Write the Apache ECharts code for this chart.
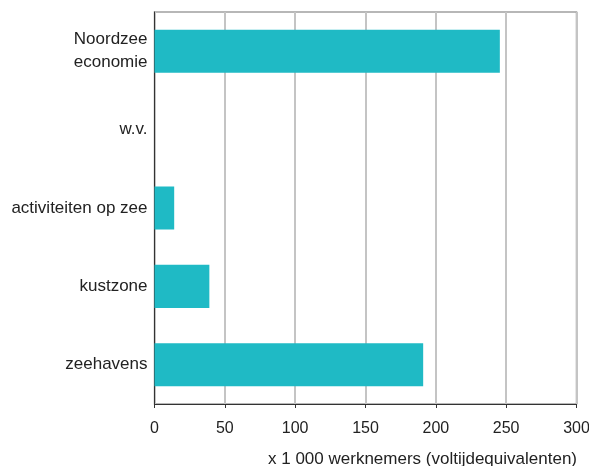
<!DOCTYPE html>
<html><head><meta charset="utf-8">
<script src="https://cdn.jsdelivr.net/npm/echarts@6/dist/echarts.min.js"></script>
<style>html,body{margin:0;padding:0;background:#fff}#c{width:589px;height:466px}</style>
</head><body><div id="c"></div>
<script>
const categories = ["Noordzee\neconomie", "w.v.", "activiteiten op zee", "kustzone", "zeehavens"];
const values = [245.5, null, 14, 39, 191];
const xTicks = [0, 50, 100, 150, 200, 250, 300];
const xName = "x 1 000 werknemers (voltijdequivalenten)";

const FF = 'Liberation Sans, Arial, sans-serif';
const chart = echarts.init(document.getElementById('c'), null, {renderer: 'canvas'});
chart.setOption({
  animation: false,
  backgroundColor: '#fff',
  textStyle: {fontFamily: FF},
  grid: {left: 154.5, right: 12.5, top: 12, bottom: 62, containLabel: false, outerBoundsMode: 'none',
         show: true, borderColor: '#a0a0a0', borderWidth: 1.5},
  xAxis: {
    type: 'value', min: xTicks[0], max: xTicks[xTicks.length-1], interval: 50,
    axisLine: {show: true, lineStyle: {color: '#333', width: 1}},
    axisTick: {show: true, length: 4, lineStyle: {color: '#333'}},
    axisLabel: {color: '#222', fontSize: 16, margin: 17, fontFamily: FF},
    splitLine: {show: true, lineStyle: {color: '#c4c4c4', width: 2}},
    name: xName, nameLocation: 'middle', nameGap: 47,
    nameTextStyle: {color: '#222', fontSize: 17, padding: [0, 0, 0, 114], fontFamily: FF}
  },
  yAxis: {
    type: 'category', data: categories, inverse: true,
    axisLine: {show: true, lineStyle: {color: '#333', width: 1}},
    axisTick: {show: false},
    axisLabel: {color: '#222', fontSize: 17, margin: 7, lineHeight: 23, fontFamily: FF},
    splitLine: {show: false}
  },
  series: [{
    type: 'bar', data: values, barWidth: '55%',
    itemStyle: {color: '#1FBAC5'}
  }]
});
</script></body></html>
